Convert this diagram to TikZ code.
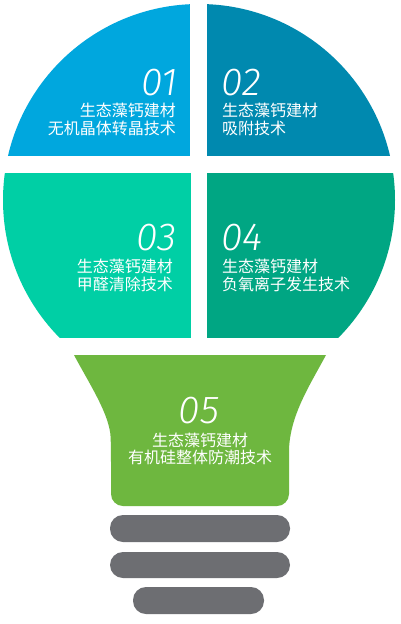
\documentclass[tikz,border=0pt]{standalone}
\usepackage{fontspec}
\newfontfamily\cjk{Noto Sans CJK SC}
\newfontfamily\numfont{Fira Sans}[UprightFont=* Light, ItalicFont=* Light Italic]
\definecolor{qone}{RGB}{0,167,222}
\definecolor{qtwo}{RGB}{0,137,175}
\definecolor{qthree}{RGB}{0,207,165}
\definecolor{qfour}{RGB}{0,166,131}
\definecolor{qfive}{RGB}{110,183,63}
\definecolor{bargray}{RGB}{109,110,114}
\tikzset{
  num/.style={font=\numfont\itshape\fontsize{39}{39}\selectfont, text=white, inner sep=0pt},
  lbl/.style={font=\cjk\fontsize{16}{16}\selectfont, text=white, inner sep=0pt},
  capbar/.style={fill=bargray, rounded corners=13pt}
}
\begin{document}
\begin{tikzpicture}[x=1pt,y=-1pt]
\useasboundingbox (0,0) rectangle (400,624);
\fill[white] (0,0) rectangle (400,624);
% bulb head
\begin{scope}
  \clip (199,200) circle (196pt);
  \fill[qone] (0,0) rectangle (190,156);
  \fill[qtwo] (207,0) rectangle (400,156);
  \fill[qthree] (0,173) rectangle (191,338);
  \fill[qfour] (207,173) rectangle (400,338);
\end{scope}
% neck
\fill[qfive] (74,355) -- (326,355) .. controls (310,385) and (290,415) .. (289,450)
  [rounded corners=12pt] -- (289,506) -- (111,506) -- (111,450) [sharp corners]
  .. controls (110,415) and (90,385) .. (74,355) -- cycle;
% screw base
\fill[capbar] (110,515) rectangle (290,542);
\fill[capbar] (110,552) rectangle (290,578);
\fill[capbar] (133,587) rectangle (264,614);
% texts
\node[num, anchor=base east] (n1) at (178,95) {01};
\node[lbl, anchor=base east] (t1a) at (176,116) {生态藻钙建材};
\node[lbl, anchor=base east] (t1b) at (176,134) {无机晶体转晶技术};
\node[num, anchor=base west] (n2) at (221,95) {02};
\node[lbl, anchor=base west] (t2a) at (222,116) {生态藻钙建材};
\node[lbl, anchor=base west] (t2b) at (222,134) {吸附技术};
\node[num, anchor=base east] (n3) at (177,250) {03};
\node[lbl, anchor=base east] (t3a) at (173,272) {生态藻钙建材};
\node[lbl, anchor=base east] (t3b) at (173,290) {甲醛清除技术};
\node[num, anchor=base west] (n4) at (221,250) {04};
\node[lbl, anchor=base west] (t4a) at (222,272) {生态藻钙建材};
\node[lbl, anchor=base west] (t4b) at (222,290) {负氧离子发生技术};
\node[num, anchor=base] (n5) at (199,423) {05};
\node[lbl, anchor=base] (t5a) at (200,446) {生态藻钙建材};
\node[lbl, anchor=base] (t5b) at (200,463) {有机硅整体防潮技术};
\end{tikzpicture}
\end{document}
